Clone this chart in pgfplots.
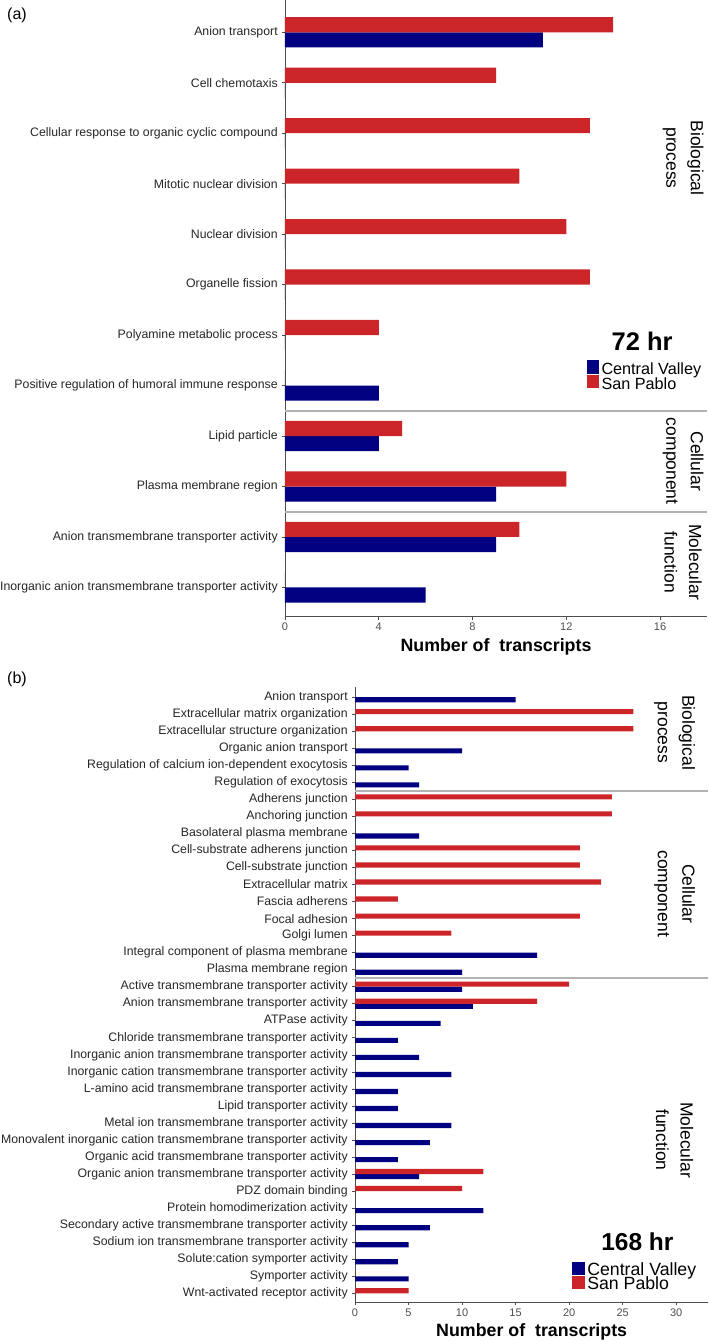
\documentclass[border=0pt]{standalone}
\usepackage{fontspec}
\setmainfont{Liberation Sans}
\usepackage{pgfplots}
\usepackage{pgfplotstable}
\pgfplotsset{compat=1.18}
\definecolor{cvblue}{HTML}{000080}
\definecolor{spred}{HTML}{CC2529}
\definecolor{sepgray}{HTML}{B3B3B3}
\definecolor{axgray}{HTML}{4D4D4D}
\definecolor{txtgray}{HTML}{262626}

% panel (a): 72 hr ; pos = 11 - row index (top row = 11)
\pgfplotstableread{
pos cv sp
11 11 14
10 0 9
9 0 13
8 0 10
7 0 12
6 0 13
5 0 4
4 4 0
3 4 5
2 9 12
1 9 10
0 6 0
}\dataA

% panel (b): 168 hr ; pos = 35 - row index
\pgfplotstableread{
pos cv sp
35 15 0
34 0 26
33 0 26
32 10 0
31 5 0
30 6 0
29 0 24
28 0 24
27 6 0
26 0 21
25 0 21
24 0 23
23 0 4
22 0 21
21 0 9
20 17 0
19 10 0
18 10 20
17 11 17
16 8 0
15 4 0
14 6 0
13 9 0
12 4 0
11 4 0
10 9 0
9 7 0
8 4 0
7 6 12
6 0 10
5 12 0
4 7 0
3 5 0
2 4 0
1 5 0
0 0 5
}\dataB

\pgfplotsset{
  gostyle/.style={
    scale only axis, xbar, bar width=0.3,
    axis x line*=bottom, axis y line*=left,
    axis line style={axgray, line width=0.9pt},
    tick align=outside, major tick length=2.8pt,
    tick style={axgray, line width=0.7pt},
    xticklabel style={font=\fontsize{11}{11}\selectfont, text=axgray},
    yticklabel style={text=txtgray, inner sep=1.5pt, xshift=-2.8pt},
    /pgf/number format/assume math mode=true,
    clip=false,
    legend cell align=left,
    every axis x label/.style={at={(axis description cs:0.5,0)}, anchor=base, yshift=-34.8pt, font=\fontsize{17.8}{17.8}\selectfont\bfseries},
  }
}

\begin{document}
\begin{tikzpicture}
\useasboundingbox (0pt,0pt) rectangle (709pt,-1341pt);
\node[anchor=west, inner sep=0pt, font=\fontsize{16}{16}\selectfont] at (7pt,-15.5pt) {(a)};
\node[anchor=west, inner sep=0pt, font=\fontsize{16}{16}\selectfont] at (7pt,-679pt) {(b)};

% ---------------- panel (a)
\begin{axis}[gostyle,
  at={(285pt,-0.5pt)}, anchor=north west,
  width=422pt, height=616.2pt,
  xmin=0, xmax=18, ymin=-0.58, ymax=11.63,
  xtick={0,4,8,12,16},
  ytick={0,1,2,3,4,5,6,7,8,9,10,11},
  yticklabels={Inorganic anion transmembrane transporter activity,
    Anion transmembrane transporter activity,
    Plasma membrane region,
    Lipid particle,
    Positive regulation of humoral immune response,
    Polyamine metabolic process,
    Organelle fission,
    Nuclear division,
    Mitotic nuclear division,
    Cellular response to organic cyclic compound,
    Cell chemotaxis,
    Anion transport},
  yticklabel style={font=\fontsize{12.3}{12.3}\selectfont},
  xlabel={Number of\ \ transcripts},
  legend style={at={(axis cs:12.87,4.504)}, anchor=north west, draw=none, fill=none,
    inner sep=0pt, outer sep=0pt, column sep=2.7pt, row sep=0pt,
    font=\fontsize{16.2}{16.2}\selectfont,
    nodes={inner sep=0pt, text height=12.5pt, text depth=0pt}},
]
\addlegendimage{legend image code/.code={\fill[cvblue] (0pt,-4.2pt) rectangle (11.7pt,8.3pt);}}
\addlegendentry{Central Valley}
\addlegendimage{legend image code/.code={\fill[spred] (0pt,-4.2pt) rectangle (11.7pt,8.3pt);}}
\addlegendentry{San Pablo}
\addplot[forget plot, fill=cvblue, draw=none, bar shift=0pt] table[x=cv, y expr=\thisrow{pos}-0.15] {\dataA};
\addplot[forget plot, fill=spred, draw=none, bar shift=0pt] table[x=sp, y expr=\thisrow{pos}+0.15] {\dataA};
\draw[sepgray, line width=2.3pt] (axis cs:0,3.5) -- (axis cs:18,3.5);
\draw[sepgray, line width=2.3pt] (axis cs:0,1.5) -- (axis cs:18,1.5);
\node[rotate=-90, align=center, font=\fontsize{17.5}{24.5}\selectfont] at (axis cs:16.98,8.51) {Biological\\process};
\node[rotate=-90, align=center, font=\fontsize{17.5}{24.5}\selectfont] at (axis cs:16.98,2.5) {Cellular\\component};
\node[rotate=-90, align=center, font=\fontsize{17.5}{24.5}\selectfont] at (axis cs:16.98,0.5) {Molecular\\function};
\node[anchor=base, inner sep=0pt, font=\fontsize{25.5}{25.5}\selectfont\bfseries] at (axis cs:15.23,4.703) {72 hr};
\end{axis}

% ---------------- panel (b)
\begin{axis}[gostyle,
  at={(355pt,-686.7pt)}, anchor=north west,
  width=353.3pt, height=615.6pt,
  xmin=0, xmax=33, ymin=-0.53, ymax=35.617,
  xtick={0,5,10,15,20,25,30},
  ytick={0,1,...,35},
  yticklabels={Wnt-activated receptor activity,
    Symporter activity,
    Solute:cation symporter activity,
    Sodium ion transmembrane transporter activity,
    Secondary active transmembrane transporter activity,
    Protein homodimerization activity,
    PDZ domain binding,
    Organic anion transmembrane transporter activity,
    Organic acid transmembrane transporter activity,
    Monovalent inorganic cation transmembrane transporter activity,
    Metal ion transmembrane transporter activity,
    Lipid transporter activity,
    L-amino acid transmembrane transporter activity,
    Inorganic cation transmembrane transporter activity,
    Inorganic anion transmembrane transporter activity,
    Chloride transmembrane transporter activity,
    ATPase activity,
    Anion transmembrane transporter activity,
    Active transmembrane transporter activity,
    Plasma membrane region,
    Integral component of plasma membrane,
    Golgi lumen,
    Focal adhesion,
    Fascia adherens,
    Extracellular matrix,
    Cell-substrate junction,
    Cell-substrate adherens junction,
    Basolateral plasma membrane,
    Anchoring junction,
    Adherens junction,
    Regulation of exocytosis,
    Regulation of calcium ion-dependent exocytosis,
    Organic anion transport,
    Extracellular structure organization,
    Extracellular matrix organization,
    Anion transport},
  yticklabel style={font=\fontsize{12.3}{12.3}\selectfont},
  xlabel={Number of\ \ transcripts},
  every axis x label/.append style={yshift=0.9pt},
  legend style={at={(axis cs:20.29,1.853)}, anchor=north west, draw=none, fill=none,
    inner sep=0pt, outer sep=0pt, column sep=2.7pt, row sep=0pt,
    font=\fontsize{17.7}{17.7}\selectfont,
    nodes={inner sep=0pt, text height=12.2pt, text depth=0pt}},
]
\addlegendimage{legend image code/.code={\fill[cvblue] (0pt,-4.6pt) rectangle (12pt,7.6pt);}}
\addlegendentry{Central Valley}
\addlegendimage{legend image code/.code={\fill[spred] (0pt,-4.6pt) rectangle (12pt,7.6pt);}}
\addlegendentry{San Pablo}
\addplot[forget plot, fill=cvblue, draw=none, bar shift=0pt] table[x=cv, y expr=\thisrow{pos}-0.15] {\dataB};
\addplot[forget plot, fill=spred, draw=none, bar shift=0pt] table[x=sp, y expr=\thisrow{pos}+0.15] {\dataB};
\draw[sepgray, line width=2.3pt] (axis cs:0,29.5) -- (axis cs:33,29.5);
\draw[sepgray, line width=2.3pt] (axis cs:0,18.5) -- (axis cs:33,18.5);
\node[rotate=-90, align=center, font=\fontsize{17.5}{24.5}\selectfont] at (axis cs:29.85,32.93) {Biological\\process};
\node[rotate=-90, align=center, font=\fontsize{17.5}{24.5}\selectfont] at (axis cs:29.85,23.46) {Cellular\\component};
\node[rotate=-90, align=center, font=\fontsize{17.5}{24.5}\selectfont] at (axis cs:29.85,9) {Molecular\\function};
\node[anchor=base, inner sep=0pt, font=\fontsize{24.5}{24.5}\selectfont\bfseries] at (axis cs:26.38,2.54) {168 hr};
\end{axis}
\end{tikzpicture}
\end{document}
